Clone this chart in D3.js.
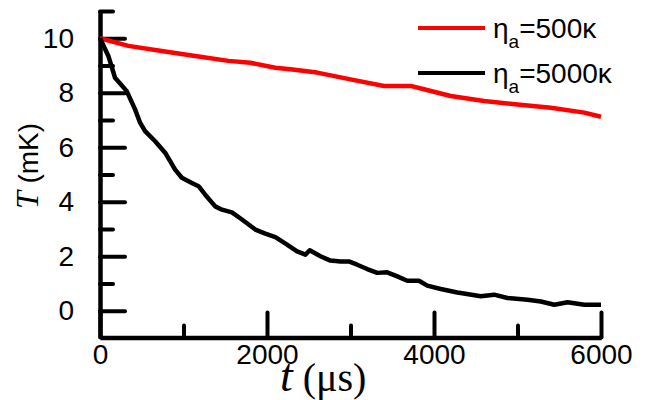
<!DOCTYPE html>
<html>
<head>
<meta charset="utf-8">
<script src="https://cdn.jsdelivr.net/npm/d3@7/dist/d3.min.js"></script>
<style>
  html, body { margin: 0; padding: 0; background: #fff; }
  svg { display: block; }
  text { fill: #000; }
  .sans { font-family: "Liberation Sans", Arial, sans-serif; }
  .serif { font-family: "Liberation Serif", "Times New Roman", serif; }
</style>
</head>
<body>
<svg id="chart" width="650" height="400"></svg>
<script>
// ---- data ----
const redT = [0, 340, 740, 1140, 1540, 1800, 2100, 2280, 2600, 3000, 3400, 3720, 3880, 4200, 4600, 5000, 5400, 5800, 6000];
const redV = [10, 9.72, 9.53, 9.35, 9.17, 9.1, 8.92, 8.86, 8.74, 8.49, 8.25, 8.25, 8.13, 7.88, 7.70, 7.57, 7.45, 7.27, 7.12];

const blackT = [0, 100, 180, 320, 420, 480, 540, 660, 780, 900, 980, 1100, 1180, 1260, 1380, 1460, 1580, 1700, 1860, 1980, 2100, 2240, 2360, 2460, 2512, 2640, 2760, 2880, 2980, 3080, 3200, 3320, 3440, 3560, 3680, 3820, 3920, 4080, 4280, 4320, 4560, 4720, 4880, 5120, 5280, 5440, 5600, 5800, 6000];
const blackV = [10, 9.35, 8.55, 8.06, 7.39, 6.90, 6.59, 6.22, 5.80, 5.18, 4.88, 4.69, 4.57, 4.26, 3.83, 3.71, 3.61, 3.35, 2.98, 2.83, 2.70, 2.43, 2.18, 2.06, 2.22, 2.0, 1.84, 1.81, 1.81, 1.69, 1.53, 1.39, 1.41, 1.26, 1.10, 1.10, 0.92, 0.80, 0.67, 0.65, 0.53, 0.59, 0.47, 0.40, 0.34, 0.22, 0.31, 0.22, 0.22];

const xMajor = [0, 2000, 4000, 6000];
const xMinor = [1000, 3000, 5000];
const yMajor = [0, 2, 4, 6, 8, 10];
const yMinor = [1, 3, 5, 7, 9, 11];

const seriesNames = ["500κ", "5000κ"];
const seriesColors = ["#ff0000", "#000000"];

// ---- chart ----
const svg = d3.select("#chart");
const x = d3.scaleLinear().domain([0, 6000]).range([100, 601]);
const y = d3.scaleLinear().domain([-1, 11]).range([338, 11]);
const axisY = 337.5;

function styleAxis(g) {
  g.attr("font-family", null).attr("font-size", null);
  g.selectAll("path.domain").attr("stroke", "#000").attr("stroke-width", 4.5);
  g.selectAll(".tick line").attr("stroke", "#000").attr("stroke-width", 4).attr("stroke-linecap", "round");
  g.selectAll(".tick text").attr("class", "sans").style("font-size", "28px");
}

// y minor
svg.append("g").attr("transform", "translate(100,0)")
  .call(d3.axisLeft(y).tickValues(yMinor).tickSize(-13).tickFormat(""))
  .call(g => g.select(".domain").remove())
  .call(styleAxis);
// y major
svg.append("g").attr("transform", "translate(100,0)")
  .call(d3.axisLeft(y).tickValues(yMajor).tickSizeInner(-25).tickSizeOuter(0).tickPadding(26))
  .call(styleAxis);

// x minor
svg.append("g").attr("transform", `translate(0,${axisY})`)
  .call(d3.axisBottom(x).tickValues(xMinor).tickSize(-12).tickFormat(""))
  .call(g => g.select(".domain").remove())
  .call(styleAxis);
// x major
svg.append("g").attr("transform", `translate(0,${axisY})`)
  .call(d3.axisBottom(x).tickValues(xMajor).tickSizeInner(-25).tickSizeOuter(0).tickPadding(7).tickFormat(d3.format("d")))
  .call(styleAxis);

// lines
const line = d3.line().x(d => x(d[0])).y(d => y(d[1]));
const redData = redT.map((t, i) => [t, redV[i]]);
const blackData = blackT.map((t, i) => [t, blackV[i]]);

svg.append("path").datum(redData).attr("d", line)
  .attr("fill", "none").attr("stroke", seriesColors[0]).attr("stroke-width", 4.5).attr("stroke-linejoin", "round");
svg.append("path").datum(blackData).attr("d", line)
  .attr("fill", "none").attr("stroke", seriesColors[1]).attr("stroke-width", 4.5).attr("stroke-linejoin", "round");

// legend
const legY = [28, 73];
seriesNames.forEach((name, i) => {
  svg.append("line").attr("x1", 418).attr("x2", 485).attr("y1", legY[i]).attr("y2", legY[i])
    .attr("stroke", seriesColors[i]).attr("stroke-width", 4);
  const t = svg.append("text").attr("class", "sans").attr("x", 493).attr("y", legY[i] + 10).style("font-size", "28px");
  t.append("tspan").text("η");
  t.append("tspan").style("font-size", "19px").attr("dy", 10).text("a");
  t.append("tspan").attr("dy", -10).text("=" + name);
});

// axis titles
const xt = svg.append("text").attr("class", "serif").attr("x", 280).attr("y", 391);
xt.append("tspan").style("font-style", "italic").style("font-size", "46px").text("t");
xt.append("tspan").style("font-size", "40px").text(" (μs)");

const yt = svg.append("text").attr("transform", "translate(38,166) rotate(-90)").attr("text-anchor", "middle");
yt.append("tspan").attr("class", "serif").style("font-style", "italic").style("font-size", "32px").text("T");
yt.append("tspan").attr("class", "sans").style("font-size", "28px").text(" (mK)");
</script>
</body>
</html>
